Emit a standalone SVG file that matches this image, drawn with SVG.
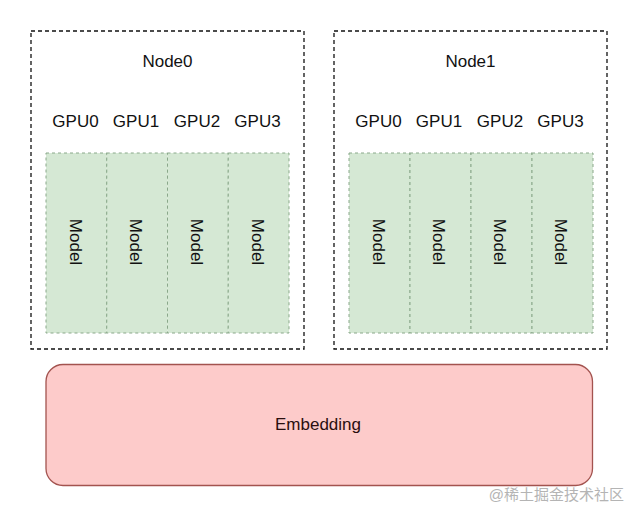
<svg xmlns="http://www.w3.org/2000/svg" width="640" height="517" viewBox="0 0 640 517">
<style>
.node{fill:#ffffff;stroke:#111111;stroke-width:1.3;stroke-dasharray:4 3}
.gpu{fill:#d5e8d4;stroke:#8aa88a;stroke-width:1;stroke-dasharray:3 3}
.emb{fill:#fdcbca;stroke:#a3534f;stroke-width:1.3}
.t{font-family:"Liberation Sans",Arial,sans-serif;font-size:17px;fill:#111111;text-anchor:middle}
.m{font-family:"Liberation Sans",Arial,sans-serif;font-size:17px;fill:#111111;text-anchor:middle}
.wm{font-family:"Liberation Sans","Noto Sans CJK SC",sans-serif;font-size:15px;fill:#b4b4b4;text-anchor:end}
</style>
<rect width="640" height="517" fill="#ffffff"/>
<g id="node0">
<rect class="node" x="31" y="31" width="273" height="318"/>
<text class="t" x="167.5" y="67">Node0</text>
<text class="t" x="75.5" y="127">GPU0</text>
<text class="t" x="136" y="127">GPU1</text>
<text class="t" x="197" y="127">GPU2</text>
<text class="t" x="257.5" y="127">GPU3</text>
</g>
<g id="node0-gpu0"><rect class="gpu" x="46" y="153" width="60.75" height="180"/><text class="m" transform="translate(69.5,242) rotate(90)">Model</text></g>
<g id="node0-gpu1"><rect class="gpu" x="106.75" y="153" width="60.75" height="180"/><text class="m" transform="translate(130.2,242) rotate(90)">Model</text></g>
<g id="node0-gpu2"><rect class="gpu" x="167.5" y="153" width="60.75" height="180"/><text class="m" transform="translate(190.9,242) rotate(90)">Model</text></g>
<g id="node0-gpu3"><rect class="gpu" x="228.25" y="153" width="60.75" height="180"/><text class="m" transform="translate(251.5,242) rotate(90)">Model</text></g>
<g id="node1">
<rect class="node" x="334" y="31" width="273" height="318"/>
<text class="t" x="470.5" y="67">Node1</text>
<text class="t" x="378.5" y="127">GPU0</text>
<text class="t" x="439" y="127">GPU1</text>
<text class="t" x="500" y="127">GPU2</text>
<text class="t" x="560.5" y="127">GPU3</text>
</g>
<g id="node1-gpu0"><rect class="gpu" x="349" y="153" width="61" height="180"/><text class="m" transform="translate(372.5,242) rotate(90)">Model</text></g>
<g id="node1-gpu1"><rect class="gpu" x="410" y="153" width="61" height="180"/><text class="m" transform="translate(433.3,242) rotate(90)">Model</text></g>
<g id="node1-gpu2"><rect class="gpu" x="471" y="153" width="61" height="180"/><text class="m" transform="translate(494,242) rotate(90)">Model</text></g>
<g id="node1-gpu3"><rect class="gpu" x="532" y="153" width="61" height="180"/><text class="m" transform="translate(554.7,242) rotate(90)">Model</text></g>
<g id="embedding">
<rect class="emb" x="46" y="364.5" width="546.5" height="121" rx="17" ry="17"/>
<text class="t" x="318" y="430" style="fill:#2a0f0f">Embedding</text>
</g>
<g id="connectors"></g>
<text class="wm" x="624" y="500">@稀土掘金技术社区</text>
</svg>
